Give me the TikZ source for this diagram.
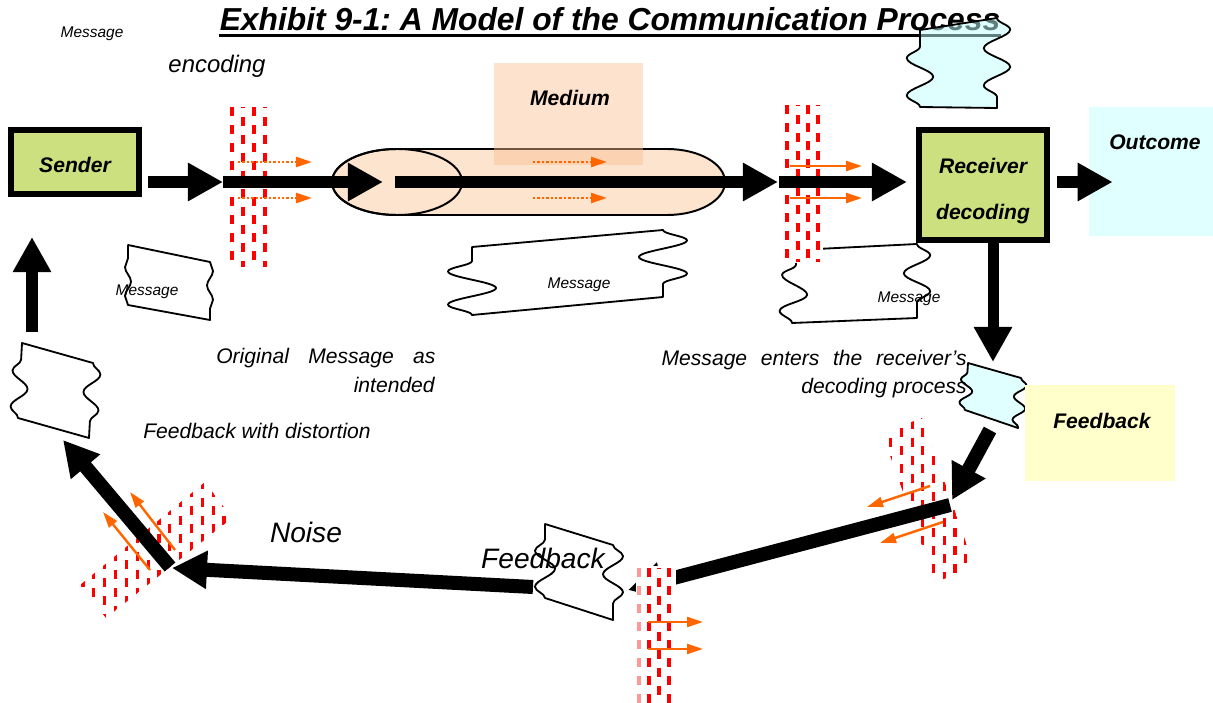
\documentclass[tikz,border=0pt]{standalone}
\usepackage{fontspec}
\setmainfont{Liberation Sans}
\usetikzlibrary{positioning,calc,arrows.meta,decorations.pathmorphing}
\frenchspacing

\definecolor{boxgreen}{RGB}{204,224,128}
\definecolor{mediumorange}{RGB}{250,192,144}
\definecolor{tubefill}{RGB}{253,228,206}
\definecolor{paleblue}{RGB}{224,255,255}
\definecolor{deepblue}{RGB}{192,255,255}
\definecolor{paleyellow}{RGB}{255,255,204}
\definecolor{noiseorange}{RGB}{255,102,0}

\begin{document}
\begin{tikzpicture}[
  x=0.025cm, y=-0.025cm,
  headline/.style={font=\bfseries\itshape\fontsize{22.6}{27}\selectfont, inner sep=0pt, anchor=base},
  box/.style={draw, line width=0.15cm, fill=boxgreen, minimum width=3.2cm,
              font=\bfseries\itshape\fontsize{15}{32.6}\selectfont, align=center},
  pad/.style={fill=#1, draw=none, inner sep=0pt},
  boldlab/.style={font=\bfseries\itshape\fontsize{15}{18}\selectfont, inner sep=0pt, anchor=base},
  lab/.style={font=\itshape\fontsize{15}{18}\selectfont, inner sep=0pt, anchor=base},
  tiny/.style={font=\itshape\fontsize{11}{13}\selectfont, inner sep=0pt, anchor=base},
  big/.style={font=\itshape\fontsize{20}{24}\selectfont, inner sep=0pt, anchor=base},
  blk/.style={line width=0.275cm, -{Triangle[length=0.875cm,width=0.9cm]}},
  fblk/.style={line width=0.35cm, -{Triangle[length=0.875cm,width=0.9cm]}},
  orarr/.style={draw=noiseorange, line width=0.06cm, -{Triangle[length=0.4cm,width=0.25cm]}},
  ordot/.style={orarr, dash pattern=on 0.06cm off 0.05cm},
  noisedash/.style={draw=red, line width=0.08cm, dash pattern=on 0.23cm off 0.22cm},
  msgline/.style={draw, line width=1.3pt, line join=round},
  wavy/.style 2 args={decoration={snake, amplitude=#1, segment length=#2}}
]
\useasboundingbox (0,0) rectangle (1213,703);

% title
\node[headline] (title) at (610,31) {Exhibit 9-1: A Model of the Communication Process};
\draw[line width=2.2pt] ([yshift=-3.5pt]title.base west) -- ([yshift=-3.5pt]title.base east);

% medium tube
\draw[line width=1.4pt, fill=tubefill] (397,149) -- (667,149)
  arc[start angle=-90, end angle=90, x radius=58, y radius=33] -- (397,215)
  arc[start angle=90, end angle=270, x radius=65, y radius=33] -- cycle;
\draw[line width=1.4pt] (397,182) ellipse [x radius=65, y radius=33];
\node[pad=mediumorange, fill opacity=0.45, minimum width=3.725cm, minimum height=2.55cm] (medium) at (568.5,114) {};

% messages
\draw[msgline, fill=white, wavy={0.075cm}{0.72cm}] (128,245) -- (210,262) decorate {-- (210,320)} -- (128,305) decorate {-- (128,245)} -- cycle;
\draw[msgline, fill=white, wavy={0.2cm}{0.9cm}] (22,343) -- (93,363) decorate {-- (89,438)} -- (18,418) decorate {-- (22,343)} -- cycle;
\draw[msgline, fill=white, wavy={0.6cm}{0.83cm}] (472,247) -- (663,230) decorate {-- (663,297)} -- (472,315) decorate {-- (472,247)} -- cycle;
\draw[msgline, fill=white, wavy={0.33cm}{0.9cm}] (797,250) -- (917,244) decorate {-- (917,318)} -- (792,323) decorate {-- (797,250)} -- cycle;
\draw[msgline, fill=paleblue, wavy={0.15cm}{0.58cm}] (968,363) -- (1021,378) decorate {-- (1018,428)} -- (965,410) decorate {-- (968,363)} -- cycle;
\draw[msgline, wavy={0.25cm}{0.9cm}] (545,524) -- (613,545) decorate {-- (613,620)} -- (545,598) decorate {-- (545,524)} -- cycle;

% boxes
\node[box, minimum height=1.6cm] (sender) at (75,162) {\rule{0pt}{15pt}Sender};
\node[box, minimum height=2.75cm] (receiver) at (983,185) {\rule{0pt}{20pt}Receiver\\decoding};
\node[pad=paleblue, minimum width=3.1cm, minimum height=3.225cm] (outcome) at (1151,171.5) {};
\node[pad=paleyellow, minimum width=3.75cm, minimum height=2.4cm] (fbbox) at (1100,433) {};

% noise
\fill[white] (225,100) rectangle (269,268);
\foreach \x/\ph in {232/0pt,243/6pt,254/0pt,265/6pt}
  \draw[noisedash, dash phase=\ph] (\x,107) -- (\x,267);
\fill[white] (780,98) rectangle (823,263);
\foreach \x/\ph in {787/0pt,798/6pt,808/0pt,818/6pt}
  \draw[noisedash, dash phase=\ph] (\x,105) -- (\x,262);
\begin{scope}
  \clip (882,433) -- (922,418) -- (975,568) -- (935,582) -- cycle;
  \foreach \i [evaluate=\i as \ph using {6*mod(\i,2)}] in {0,...,9}
    \draw[noisedash, dash phase=\ph pt] (880+10.7*\i,410) -- ++(0,180);
\end{scope}
\begin{scope}
  \clip (80,585) -- (205,482) -- (232,518) -- (106,618) -- cycle;
  \foreach \i [evaluate=\i as \ph using {6*mod(\i,2)}] in {0,...,13}
    \draw[noisedash, dash phase=\ph pt] (83+10.85*\i,470) -- ++(0,160);
\end{scope}

% forward path
\coordinate (encL) at (223,182);
\coordinate (tubeL) at (383,182);
\coordinate (tubeR) at (395,182);
\coordinate (decL) at (778,182);
\coordinate (decR) at (779,182);
\draw[blk] ($(sender.east |- encL)+(6,0)$) -- (encL);
\draw[blk] (encL) -- (tubeL);
\draw[blk] (tubeR) -- (decL);
\draw[blk] (decR) -- ($(receiver.west |- decR)+(-9,0)$);
\draw[blk] ($(receiver.east |- decR)+(7,0)$) -- ($(outcome.west |- decR)+(24,0)$);

% feedback loop
\coordinate (fbA) at (993,243);
\coordinate (fbB) at (993,362);
\coordinate (fbC) at (990,430);
\coordinate (fbD) at (952,500);
\coordinate (fbE) at (950,505);
\coordinate (fbF) at (628,590);
\coordinate (fbG) at (533,587);
\coordinate (fbH) at (172,568);
\coordinate (fbI) at (170,567);
\coordinate (fbJ) at (63,440);
\coordinate (fbK) at (32,332);
\coordinate (fbL) at (32,237);
\draw[blk] (fbA) -- (fbB);
\draw[fblk] (fbC) -- (fbD);
\draw[fblk] (fbE) -- (fbF);
\fill[white] (636,566) rectangle (676,703);
\draw[noisedash, draw=red!40] (639,568) -- (639,703);
\foreach \x/\ph in {649/0pt,659/6pt,669/0pt}
  \draw[noisedash, dash phase=\ph] (\x,568) -- (\x,703);
\draw[fblk] (fbG) -- (fbH);
\draw[fblk] (fbI) -- (fbJ);
\draw[blk] (fbK) -- (fbL);

% noise arrows
\draw[ordot] (238,162) -- (312,162);
\draw[ordot] (238,198) -- (312,198);
\draw[ordot] (533,162) -- (607,162);
\draw[ordot] (533,198) -- (607,198);
\draw[orarr] (790,166) -- (862,166);
\draw[orarr] (790,198) -- (862,198);
\draw[orarr] (930,486) -- (867,507);
\draw[orarr] (943,522) -- (880,543);
\draw[orarr] (648,622) -- (703,622);
\draw[orarr] (648,649) -- (703,649);
\draw[orarr] (175,550) -- (130,492);
\draw[orarr] (150,570) -- (103,512);

% labels
\node[tiny] (msgtop) at (92,38) {Message};
\node[lab, font=\itshape\fontsize{17}{20}\selectfont] (encoding) at (217,73) {encoding};
\node[boldlab] (mediumtxt) at (570,106) {Medium};
\node[boldlab] (outcometxt) at (1155,150) {Outcome};
\node[boldlab] (fbtxt) at (1102,428) {Feedback};
\node[tiny] (msgA) at (147,295) {Message};
\node[tiny] (msgB) at (579,288) {Message};
\node[tiny] (msgC) at (909,302) {Message};
\node[lab, anchor=base west] (origA) at (216,363) {\makebox[5.48cm][s]{Original Message as}};
\node[lab, anchor=base east] (origB) at (435,392) {intended};
\node[lab, anchor=base east] (entA) at (967,365) {\makebox[7.625cm][s]{Message enters the receiver’s}};
\node[lab, anchor=base east] (entB) at (967,393) {decoding process};
\node[lab] (distort) at (257,438) {Feedback with distortion};
\node[big] (noise) at (306,542) {Noise};
\node[big] (fbbig) at (543,568) {Feedback};

% cyan message over the title
\draw[msgline, fill=deepblue, fill opacity=0.5, wavy={0.33cm}{0.93cm}] (920,30) -- (997,18) decorate {-- (997,108)} -- (920,107) decorate {-- (920,30)} -- cycle;

\end{tikzpicture}
\end{document}
